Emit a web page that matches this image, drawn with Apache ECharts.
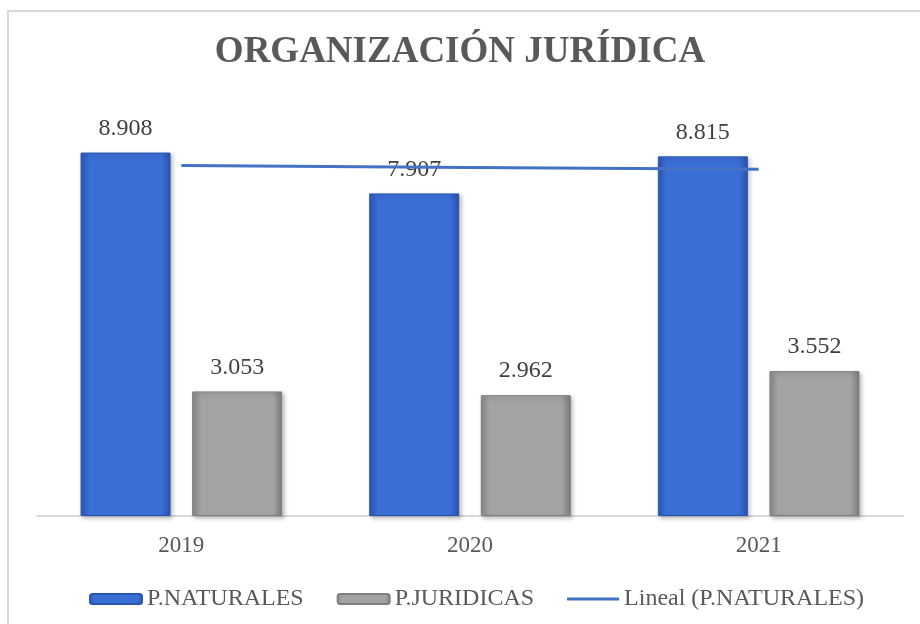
<!DOCTYPE html>
<html>
<head>
<meta charset="utf-8">
<script src="https://cdn.jsdelivr.net/npm/echarts@6/dist/echarts.min.js"></script>
<style>
  html, body { margin: 0; padding: 0; background: #fff; }
  #chart { width: 920px; height: 624px; }
</style>
</head>
<body>
<div id="chart"></div>
<script>
// datos
var years = ['2019', '2020', '2021'];
var naturales = [8908, 7907, 8815];
var juridicas = [3053, 2962, 3552];
// tendencia lineal
var tendencia = [8590, 8543, 8497];

var chart = echarts.init(document.getElementById('chart'));

var serif = '"Liberation Serif", "Times New Roman", serif';

function fmt(v) {
  return String(v).replace(/\B(?=(\d{3})+(?!\d))/g, '.');
}

var blueFill = new echarts.graphic.LinearGradient(0, 0, 1, 0, [
  { offset: 0, color: '#2c58b8' },
  { offset: 0.1, color: '#3a6fd6' },
  { offset: 0.9, color: '#3a6fd6' },
  { offset: 1, color: '#2a52a8' }
]);
var greyFill = new echarts.graphic.LinearGradient(0, 0, 1, 0, [
  { offset: 0, color: '#8a8a8a' },
  { offset: 0.1, color: '#a3a3a3' },
  { offset: 0.9, color: '#a3a3a3' },
  { offset: 1, color: '#7a7a7a' }
]);

var option = {
  backgroundColor: '#fff',
  title: {
    text: 'ORGANIZACIÓN JURÍDICA',
    left: 'center',
    top: 29,
    textStyle: {
      fontFamily: serif,
      fontSize: 37,
      fontWeight: 'bold',
      color: '#595959'
    }
  },
  graphic: [{
    type: 'rect',
    shape: { x: 8, y: 11, width: 1000, height: 1000 },
    style: { fill: 'none', stroke: '#d9d9d9', lineWidth: 2 },
    silent: true
  }],
  legend: {
    top: 582,
    left: 84,
    itemWidth: 52,
    itemHeight: 10,
    itemGap: 33,
    textStyle: { fontFamily: serif, fontSize: 24, color: '#595959' },
    data: [
      'P.NATURALES',
      'P.JURIDICAS',
      { name: 'Lineal (P.NATURALES)', icon: 'path://M0,0L52,0L52,3L0,3Z' }
    ]
  },
  grid: {
    left: 37,
    right: 17,
    top: 108,
    bottom: 108
  },
  xAxis: {
    type: 'category',
    data: years,
    axisTick: { show: false },
    axisLine: { lineStyle: { color: '#d9d9d9', width: 2 } },
    axisLabel: {
      margin: 18,
      fontFamily: serif,
      fontSize: 23,
      color: '#595959'
    }
  },
  yAxis: {
    type: 'value',
    min: 0,
    max: 10000,
    show: false,
    splitLine: { show: false }
  },
  series: [{
    name: 'P.NATURALES',
    type: 'bar',
    data: naturales,
    barWidth: 90,
    barGap: '24%',
    itemStyle: {
      color: blueFill,
      borderColor: '#2b56b0',
      borderWidth: 1,
      shadowBlur: 4,
      shadowOffsetX: 2,
      shadowOffsetY: 2,
      shadowColor: 'rgba(0,0,0,0.25)'
    },
    label: {
      show: true,
      position: 'top',
      distance: 12,
      formatter: function (p) { return fmt(p.value); },
      fontFamily: serif,
      fontSize: 24,
      color: '#404040'
    }
  }, {
    name: 'P.JURIDICAS',
    type: 'bar',
    data: juridicas,
    barWidth: 90,
    itemStyle: {
      color: greyFill,
      borderColor: '#7f7f7f',
      borderWidth: 1,
      shadowBlur: 4,
      shadowOffsetX: 2,
      shadowOffsetY: 2,
      shadowColor: 'rgba(0,0,0,0.25)'
    },
    label: {
      show: true,
      position: 'top',
      distance: 12,
      formatter: function (p) { return fmt(p.value); },
      fontFamily: serif,
      fontSize: 24,
      color: '#404040'
    }
  }, {
    name: 'Lineal (P.NATURALES)',
    type: 'line',
    data: tendencia,
    symbol: 'none',
    z: 5,
    lineStyle: { color: '#4472c4', width: 3 },
    itemStyle: { color: '#4472c4' }
  }]
};

chart.setOption(option);
</script>
</body>
</html>
